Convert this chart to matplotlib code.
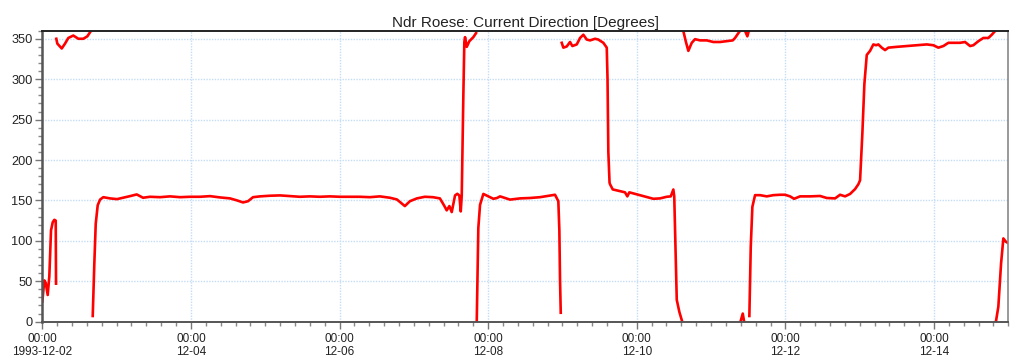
import numpy as np
import matplotlib
matplotlib.use("Agg")
import matplotlib.pyplot as plt
import matplotlib.dates as mdates
from matplotlib.ticker import FixedLocator, MultipleLocator, FuncFormatter
import datetime as dt

plt.rcParams['font.family'] = ['Liberation Sans', 'DejaVu Sans']

title = "Ndr Roese: Current Direction [Degrees]"
start = dt.datetime(1993, 12, 2, 0, 0)

# hours since start, direction in degrees (0-360, wrapping)
hours = [
    0.00, 0.65, 1.10, 1.74, 2.26, 2.81, 3.36, 3.88, 4.33, 4.43,
    4.52, 4.85, 6.27, 7.33, 8.40, 10.01, 11.63, 13.24, 14.54, 15.41, 15.73,
    16.28, 16.80, 17.25, 17.89, 18.65, 19.70, 21.87, 24.13, 26.07, 28.33,
    30.49, 32.53, 34.79, 38.02, 41.25, 44.48, 47.71, 50.94, 54.17, 57.40,
    60.63, 62.89, 64.83, 66.44, 68.06, 70.32, 73.55, 76.78, 79.96, 83.19,
    86.42, 89.65, 92.88, 96.11, 99.34, 102.57, 105.80, 109.03, 112.26, 114.52,
    116.13, 117.10, 118.72, 120.98, 123.56, 126.15, 128.41, 129.76, 130.62, 131.47,
    132.24, 133.31, 134.05, 134.70, 135.15, 135.47, 135.99, 136.31, 136.54, 137.09,
    137.93, 139.22, 140.09,
    140.32, 140.83, 141.38, 142.45, 144.06, 145.68, 146.87, 147.84, 151.07, 154.30,
    157.53, 160.76, 163.99, 165.60, 166.67, 167.00, 167.22, 167.45,
    167.77, 168.29, 169.39, 170.45, 171.20, 172.62, 173.68, 174.75, 175.85, 176.91,
    178.53, 179.59, 181.21, 182.31, 182.56, 182.82, 183.21, 183.37, 184.24, 186.60,
    188.21, 188.96, 189.60, 191.99, 195.22, 197.36, 199.52, 201.68, 202.98, 203.82,
    204.11, 204.37, 204.92, 205.76, 206.53,
    207.05, 207.82, 208.66, 209.76, 210.83, 212.44, 214.61, 216.74, 218.90, 221.07,
    223.01, 223.75, 224.82, 225.37,
    225.53, 226.24, 226.66,
    226.98, 227.72, 228.20,
    228.37, 228.82, 229.34, 230.21, 231.83, 233.99, 236.12, 238.29, 239.90, 241.52,
    242.81, 244.75, 247.98, 251.21, 253.37, 256.06, 257.67, 259.28, 260.90, 262.51,
    263.58, 264.13, 264.87, 265.52, 266.29, 267.35, 268.42, 269.29, 270.04, 271.13,
    272.20, 273.26, 275.98, 279.21, 282.44, 285.67, 287.80, 289.42, 291.03, 292.65,
    294.81, 296.43, 298.04, 299.66, 300.72, 302.34, 303.95, 305.57, 306.67, 307.73,
    308.05, 308.79, 309.67, 310.41, 311.19, 312.03,
]
direction = [
    25, 51, 48, 33, 56, 113, 123, 126, 125, 47,
    350, 344, 338, 344, 351, 354, 350, 350, 353, 358, 359.8,
    7, 72, 121, 144, 151, 154, 152.5, 151.6, 153.3, 155.3,
    157.4, 153.3, 154.5, 154, 155, 154, 154.5, 154.5, 155.3, 153.7,
    152.5, 150, 147.5, 149, 154, 155, 155.8, 156.2, 155.3, 154.5,
    155, 154.5, 155, 154.5, 154.5, 154.5, 154, 155, 153.3, 151.2,
    146, 143, 149, 152.5, 154.5, 154, 152.5, 143.8, 137.7, 143,
    135.6, 156.2, 158.2, 156, 136.4, 156, 280, 346, 352, 340,
    347, 352, 357,
    1, 116, 144.5, 158, 155, 152, 153, 155, 151, 152.5,
    153, 154, 156, 157, 149, 113, 51, 11,
    345, 339, 340.5, 346, 341, 343, 351, 355, 349, 348,
    350, 349, 345, 339, 300, 210, 172, 170, 163.6, 161.5,
    160, 155, 160, 157.5, 154, 152, 152.5, 154.5, 155, 163.5,
    155, 113, 27, 12, 2,
    359.5, 347, 335, 345, 349.5, 348, 348, 346, 346, 347,
    348, 351, 357, 359.8,
    0.3, 10, 0.3,
    359.8, 353, 359.8,
    7, 92.6, 142, 156.5, 156.5, 155, 156.5, 157, 157, 155,
    152, 155, 155, 155.5, 153, 152.5, 157, 155, 158, 164,
    170, 175, 233, 294, 330, 335, 343, 342, 343, 339,
    336, 339, 340, 341, 342, 343, 342, 339, 341, 345,
    345, 345, 346, 341, 342, 347, 351, 351, 355, 359.5,
    1, 18.5, 72, 103, 99, 97,
]

h = np.array(hours, dtype=float)
d = np.array(direction, dtype=float)
# break the line where the direction wraps around 0/360
jumps = np.where(np.abs(np.diff(d)) > 180)[0]
h_plot = np.insert(h, jumps + 1, np.nan)
d_plot = np.insert(d, jumps + 1, np.nan)
t0 = mdates.date2num(start)
t_plot = t0 + h_plot / 24.0

fig = plt.figure(figsize=(10.10, 3.61), dpi=100)
ax = fig.add_axes([0.0419, 0.109, 0.9564, 0.806])
ax.plot(t_plot, d_plot, color='#ff0000', lw=1.9, solid_joinstyle='round')

ax.set_xlim(t0, t0 + 13)
ax.set_ylim(0, 360)

major = [t0 + 2 * k for k in range(7)]
minor = [t0 + 0.2 * k for k in range(66)]
ax.xaxis.set_major_locator(FixedLocator(major))
ax.xaxis.set_minor_locator(FixedLocator(minor))

def fmt(x, pos):
    d_ = mdates.num2date(x)
    if pos == 0:
        return d_.strftime('%H:%M\n%Y-%m-%d')
    return d_.strftime('%H:%M\n%m-%d')

ax.xaxis.set_major_formatter(FuncFormatter(fmt))
ax.yaxis.set_major_locator(MultipleLocator(50))
ax.yaxis.set_minor_locator(MultipleLocator(10))

ax.grid(True, which='major', color='#c4ddf5', linestyle=(0, (1, 1)), lw=1.0)
ax.tick_params(axis='both', which='major', length=5, width=1, color='#777777',
               labelcolor='#222222', pad=2)
ax.tick_params(axis='x', which='major', labelsize=8.5, pad=3)
ax.tick_params(axis='y', which='major', labelsize=9.2)
ax.tick_params(axis='both', which='minor', length=3, width=1, color='#888888')
for lbl in ax.get_xticklabels():
    lbl.set_linespacing(1.15)

ax.spines['top'].set_color('#222222')
ax.spines['top'].set_linewidth(1.4)
ax.spines['left'].set_color('#555555')
ax.spines['left'].set_linewidth(1.8)
ax.spines['bottom'].set_color('#555555')
ax.spines['bottom'].set_linewidth(1.4)
ax.spines['right'].set_color('#888888')
ax.spines['right'].set_linewidth(1.2)

ax.set_title(title, fontsize=11, color='#222222', pad=3)

fig.savefig('out.png', dpi=100)
